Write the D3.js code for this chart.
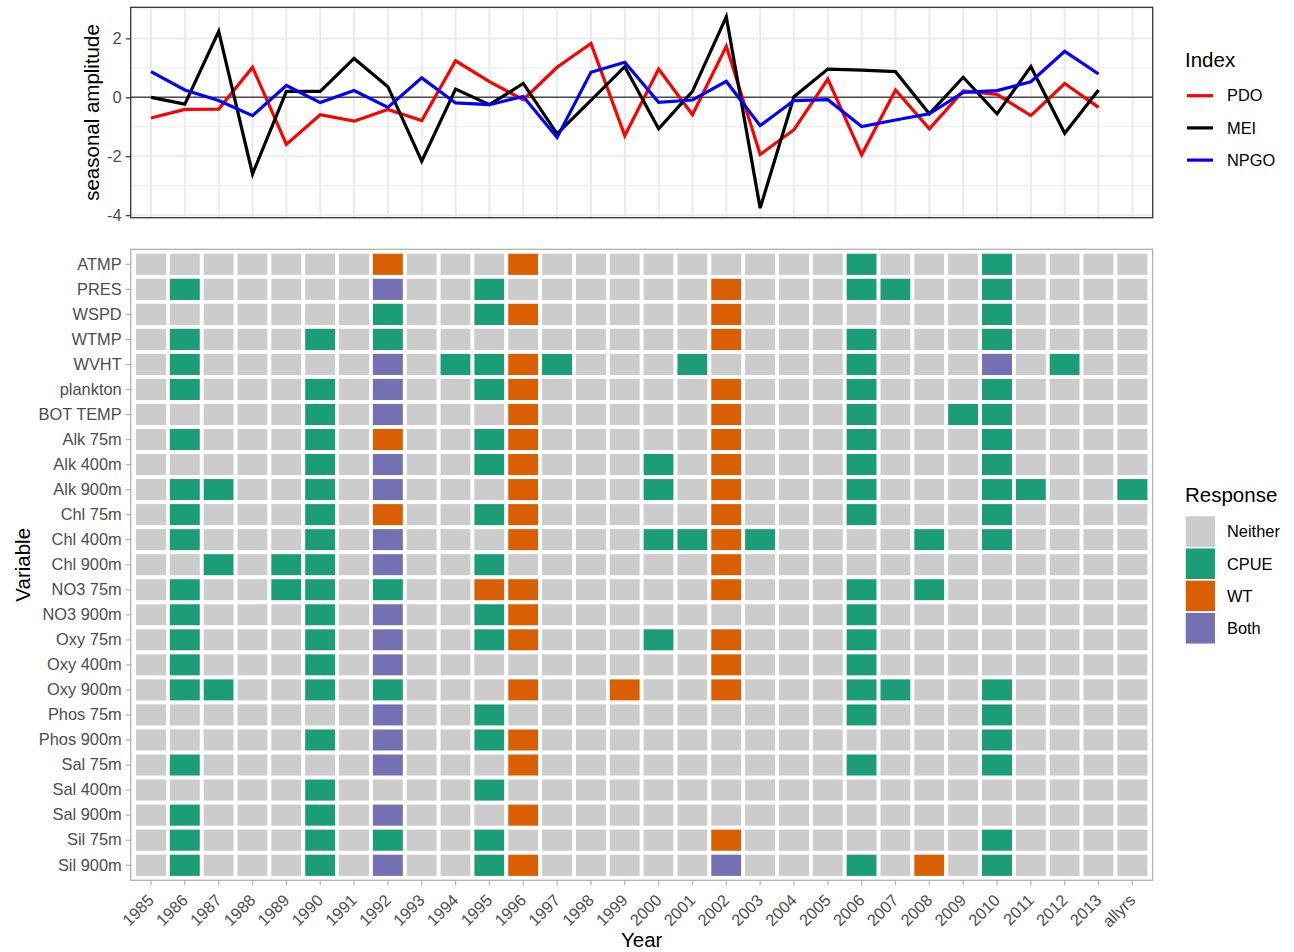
<!DOCTYPE html>
<html>
<head>
<meta charset="utf-8">
<script src="https://cdn.jsdelivr.net/npm/d3@7"></script>
<style>
  body { margin: 0; background: #fff; }
  text { font-family: "Liberation Sans", Arial, Helvetica, sans-serif; }
</style>
</head>
<body>
<script>
// categories on the x axis (both panels)
var years = ['1985', '1986', '1987', '1988', '1989', '1990', '1991', '1992', '1993', '1994',
  '1995', '1996', '1997', '1998', '1999', '2000', '2001', '2002', '2003', '2004',
  '2005', '2006', '2007', '2008', '2009', '2010', '2011', '2012', '2013', 'allyrs'];

// index series, 1985..2013
var lineYears = years.slice(0, 29);
var pdo = [-0.70, -0.41, -0.40, 1.02, -1.60, -0.59, -0.81, -0.41, -0.79, 1.24,
  0.53, -0.08, 1.02, 1.83, -1.30, 0.96, -0.59, 1.73, -1.94, -1.10,
  0.62, -1.95, 0.25, -1.07, 0.22, 0.10, -0.62, 0.47, -0.34];
var mei = [0.00, -0.23, 2.24, -2.60, 0.20, 0.20, 1.32, 0.36, -2.17, 0.28,
  -0.25, 0.47, -1.24, -0.10, 1.04, -1.07, 0.20, 2.73, -3.76, 0.02,
  0.96, 0.92, 0.87, -0.56, 0.68, -0.56, 1.04, -1.22, 0.25];
var npgo = [0.87, 0.25, -0.11, -0.62, 0.40, -0.18, 0.23, -0.34, 0.66, -0.19,
  -0.25, 0.03, -1.36, 0.85, 1.19, -0.17, -0.09, 0.54, -0.96, -0.11,
  -0.08, -0.99, -0.77, -0.56, 0.17, 0.23, 0.53, 1.56, 0.79];
var indexNames = ['PDO', 'MEI', 'NPGO'];
var indexColors = ['#FF0000', '#000000', '#0000FF'];

// heatmap rows, top to bottom
var variables = ['ATMP', 'PRES', 'WSPD', 'WTMP', 'WVHT', 'plankton', 'BOT TEMP',
  'Alk 75m', 'Alk 400m', 'Alk 900m', 'Chl 75m', 'Chl 400m', 'Chl 900m',
  'NO3 75m', 'NO3 900m', 'Oxy 75m', 'Oxy 400m', 'Oxy 900m', 'Phos 75m',
  'Phos 900m', 'Sal 75m', 'Sal 400m', 'Sal 900m', 'Sil 75m', 'Sil 900m'];

// one code per year column: N = Neither, C = CPUE, W = WT, B = Both
var responseRows = [
  'NNNNN NNWNN NWNNN NNNNN NCNNN CNNNN', // ATMP
  'NCNNN NNBNN CNNNN NNWNN NCCNN CNNNN', // PRES
  'NNNNN NNCNN CWNNN NNWNN NNNNN CNNNN', // WSPD
  'NCNNN CNCNN NNNNN NNWNN NCNNN CNNNN', // WTMP
  'NCNNN NNBNC CWCNN NCNNN NCNNN BNCNN', // WVHT
  'NCNNN CNBNN CWNNN NNWNN NCNNN CNNNN', // plankton
  'NNNNN CNBNN NWNNN NNWNN NCNNC CNNNN', // BOT TEMP
  'NCNNN CNWNN CWNNN NNWNN NCNNN CNNNN', // Alk 75m
  'NNNNN CNBNN CWNNN CNWNN NCNNN CNNNN', // Alk 400m
  'NCCNN CNBNN NWNNN CNWNN NCNNN CCNNC', // Alk 900m
  'NCNNN CNWNN CWNNN NNWNN NCNNN CNNNN', // Chl 75m
  'NCNNN CNBNN NWNNN CCWCN NNNCN CNNNN', // Chl 400m
  'NNCNC CNBNN CNNNN NNWNN NNNNN NNNNN', // Chl 900m
  'NCNNC CNCNN WWNNN NNWNN NCNCN NNNNN', // NO3 75m
  'NCNNN CNBNN CWNNN NNNNN NCNNN NNNNN', // NO3 900m
  'NCNNN CNBNN CWNNN CNWNN NCNNN NNNNN', // Oxy 75m
  'NCNNN CNBNN NNNNN NNWNN NCNNN NNNNN', // Oxy 400m
  'NCCNN CNCNN NWNNW NNWNN NCCNN CNNNN', // Oxy 900m
  'NNNNN NNBNN CNNNN NNNNN NCNNN CNNNN', // Phos 75m
  'NNNNN CNBNN CWNNN NNNNN NNNNN CNNNN', // Phos 900m
  'NCNNN NNBNN NWNNN NNNNN NCNNN CNNNN', // Sal 75m
  'NNNNN CNNNN CNNNN NNNNN NNNNN NNNNN', // Sal 400m
  'NCNNN CNBNN NWNNN NNNNN NNNNN NNNNN', // Sal 900m
  'NCNNN CNCNN CNNNN NNWNN NNNNN CNNNN', // Sil 75m
  'NCNNN CNBNN CWNNN NNBNN NCNWN CNNNN'  // Sil 900m
];
var responseCodes = ['N', 'C', 'W', 'B'];
var responseNames = ['Neither', 'CPUE', 'WT', 'Both'];
var responseColors = ['#CCCCCC', '#1B9E77', '#D95F02', '#7570B3'];

addEventListener('load', function() {

  var tickFont = 16.4, titleFont = 20.5;
  var left = 130.7, right = 1152.7;
  var topY0 = 7.3, topY1 = 217.7;
  var heatY0 = 249.3, heatY1 = 880.3;

  var svg = d3.select('body')
    .append('svg')
    .attr('width', 1294)
    .attr('height', 952);

  svg.append('rect').attr('width', 1294).attr('height', 952).attr('fill', '#fff');

  var x = d3.scaleBand().domain(years).range([left, right]).paddingInner(0).paddingOuter(0.1);
  var bw = x.bandwidth();
  function cx(d) { return x(d) + bw / 2; }

  // ---------- top panel: index lines ----------
  var all = pdo.concat(mei, npgo);
  var lo = d3.min(all), hi = d3.max(all), pad = (hi - lo) * 0.05;
  var y = d3.scaleLinear().domain([lo - pad, hi + pad]).range([topY1, topY0]);

  var top = svg.append('g');
  [-3, -1, 1, 3].forEach(function(v) {
    top.append('line').attr('x1', left).attr('x2', right).attr('y1', y(v)).attr('y2', y(v))
      .attr('stroke', '#EBEBEB').attr('stroke-width', 1);
  });
  [-4, -2, 0, 2].forEach(function(v) {
    top.append('line').attr('x1', left).attr('x2', right).attr('y1', y(v)).attr('y2', y(v))
      .attr('stroke', '#EBEBEB').attr('stroke-width', 2);
  });
  years.forEach(function(yr) {
    top.append('line').attr('x1', cx(yr)).attr('x2', cx(yr)).attr('y1', topY0).attr('y2', topY1)
      .attr('stroke', '#EBEBEB').attr('stroke-width', 2);
  });

  top.append('line').attr('x1', left).attr('x2', right).attr('y1', y(0)).attr('y2', y(0))
    .attr('stroke', '#4D4D4D').attr('stroke-width', 1.5);

  var series = [pdo, mei, npgo];
  var line = d3.line()
    .x(function(d, i) { return cx(lineYears[i]); })
    .y(function(d) { return y(d); });
  series.forEach(function(s, k) {
    top.append('path')
      .attr('d', line(s))
      .attr('fill', 'none')
      .attr('stroke', indexColors[k])
      .attr('stroke-width', 3.2)
      .attr('stroke-linejoin', 'miter');
  });

  top.append('rect').attr('x', left).attr('y', topY0)
    .attr('width', right - left).attr('height', topY1 - topY0)
    .attr('fill', 'none').attr('stroke', '#333333').attr('stroke-width', 1.3);

  var yAxis = top.append('g')
    .attr('transform', 'translate(' + left + ',0)')
    .call(d3.axisLeft(y).tickValues([-4, -2, 0, 2]).tickSize(5).tickPadding(4)
      .tickFormat(function(d) { return String(d); }));
  yAxis.select('.domain').remove();
  yAxis.selectAll('line').attr('stroke', '#333333').attr('stroke-width', 1.2);
  yAxis.selectAll('text').attr('fill', '#4D4D4D').style('font-size', tickFont + 'px')
    .style('font-family', '"Liberation Sans", Arial, sans-serif');

  svg.append('text')
    .attr('transform', 'translate(99,' + ((topY0 + topY1) / 2) + ') rotate(-90)')
    .attr('text-anchor', 'middle')
    .style('font-size', titleFont + 'px')
    .text('seasonal amplitude');

  // ---------- heatmap ----------
  var yv = d3.scaleBand().domain(variables).range([heatY0, heatY1]).paddingInner(0).paddingOuter(0.1);
  var bh = yv.bandwidth();

  var cells = [];
  variables.forEach(function(v, r) {
    var codes = responseRows[r].replace(/ /g, '').split('');
    codes.forEach(function(c, j) {
      cells.push({ variable: v, year: years[j], code: c });
    });
  });

  var heat = svg.append('g');
  years.forEach(function(yr) {
    heat.append('line').attr('x1', cx(yr)).attr('x2', cx(yr)).attr('y1', heatY0).attr('y2', heatY1)
      .attr('stroke', '#EBEBEB').attr('stroke-width', 2);
  });
  variables.forEach(function(v) {
    heat.append('line').attr('x1', left).attr('x2', right)
      .attr('y1', yv(v) + bh / 2).attr('y2', yv(v) + bh / 2)
      .attr('stroke', '#EBEBEB').attr('stroke-width', 2);
  });

  heat.selectAll('rect.cell')
    .data(cells)
    .enter()
    .append('rect')
    .attr('class', 'cell')
    .attr('x', function(d) { return x(d.year); })
    .attr('y', function(d) { return yv(d.variable); })
    .attr('width', bw)
    .attr('height', bh)
    .attr('fill', function(d) { return responseColors[responseCodes.indexOf(d.code)]; })
    .attr('stroke', '#fff')
    .attr('stroke-width', 3.8);

  heat.append('rect').attr('x', left).attr('y', heatY0)
    .attr('width', right - left).attr('height', heatY1 - heatY0)
    .attr('fill', 'none').attr('stroke', '#B3B3B3').attr('stroke-width', 1.3);

  var vAxis = heat.append('g')
    .attr('transform', 'translate(' + left + ',0)')
    .call(d3.axisLeft(yv).tickSize(5).tickPadding(4));
  vAxis.select('.domain').remove();
  vAxis.selectAll('line').attr('stroke', '#B3B3B3').attr('stroke-width', 1.2);
  vAxis.selectAll('text').attr('fill', '#4D4D4D').style('font-size', tickFont + 'px')
    .style('font-family', '"Liberation Sans", Arial, sans-serif');

  var xAxis = heat.append('g')
    .attr('transform', 'translate(0,' + heatY1 + ')')
    .call(d3.axisBottom(x).tickSize(5).tickPadding(4));
  xAxis.select('.domain').remove();
  xAxis.selectAll('line').attr('stroke', '#B3B3B3').attr('stroke-width', 1.2);
  xAxis.selectAll('text')
    .attr('fill', '#4D4D4D')
    .style('font-size', tickFont + 'px')
    .style('font-family', '"Liberation Sans", Arial, sans-serif')
    .attr('text-anchor', 'end')
    .attr('dy', null)
    .attr('y', null)
    .attr('transform', 'translate(4,21) rotate(-45)');

  svg.append('text')
    .attr('transform', 'translate(29.5,' + ((heatY0 + heatY1) / 2) + ') rotate(-90)')
    .attr('text-anchor', 'middle')
    .style('font-size', titleFont + 'px')
    .text('Variable');

  svg.append('text')
    .attr('x', (left + right) / 2)
    .attr('y', 947)
    .attr('text-anchor', 'middle')
    .style('font-size', titleFont + 'px')
    .text('Year');

  // ---------- legends ----------
  var leg1 = svg.append('g');
  leg1.append('text').attr('x', 1185).attr('y', 67).style('font-size', titleFont + 'px').text('Index');
  indexNames.forEach(function(n, i) {
    var yy = 95.7 + i * 32.2;
    leg1.append('line').attr('x1', 1187).attr('x2', 1213).attr('y1', yy).attr('y2', yy)
      .attr('stroke', indexColors[i]).attr('stroke-width', 3.2);
    leg1.append('text').attr('x', 1227).attr('y', yy).attr('dy', '0.35em')
      .style('font-size', tickFont + 'px').text(n);
  });

  var leg2 = svg.append('g');
  leg2.append('text').attr('x', 1185).attr('y', 502).style('font-size', titleFont + 'px').text('Response');
  responseNames.forEach(function(n, i) {
    var yy = 515.5 + i * 32.2;
    leg2.append('rect').attr('x', 1185).attr('y', yy).attr('width', 30.7).attr('height', 32.2)
      .attr('fill', responseColors[i]).attr('stroke', '#fff').attr('stroke-width', 1.5);
    leg2.append('text').attr('x', 1227).attr('y', yy + 16.1).attr('dy', '0.35em')
      .style('font-size', tickFont + 'px').text(n);
  });
});
</script>
</body>
</html>
